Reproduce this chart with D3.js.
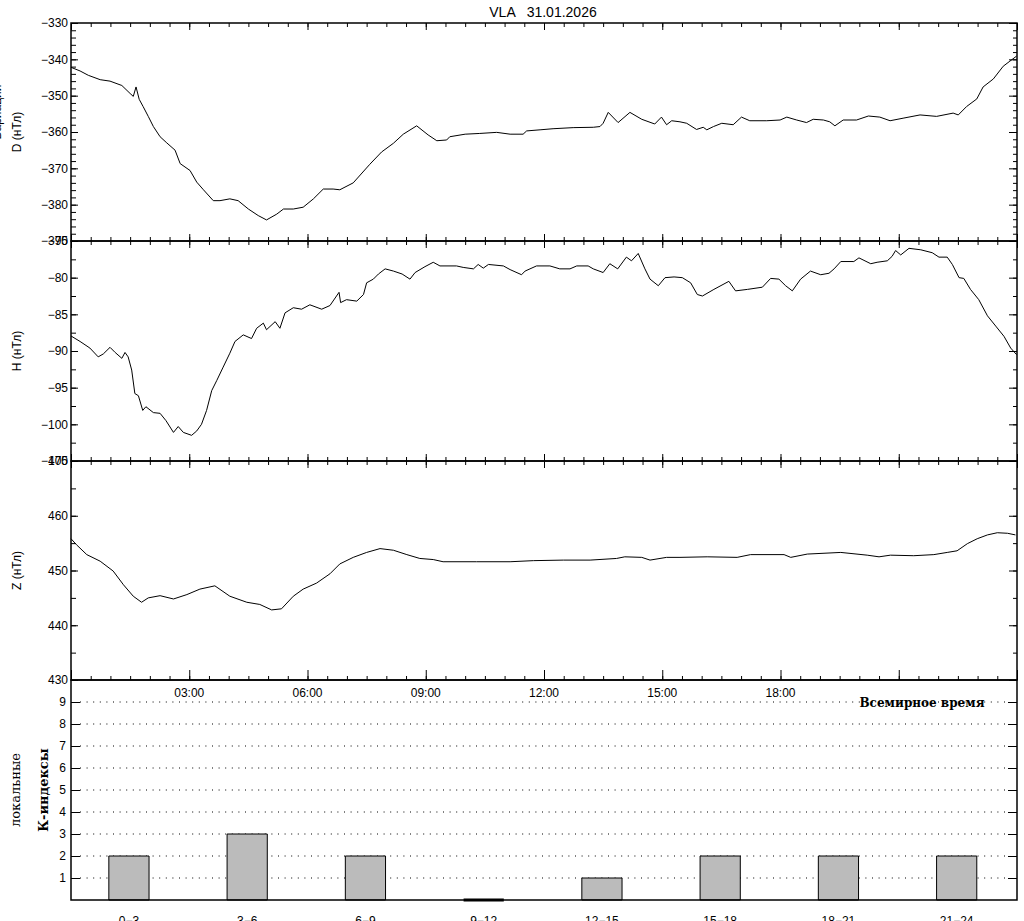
<!DOCTYPE html>
<html>
<head>
<meta charset="utf-8">
<script src="https://cdn.jsdelivr.net/npm/d3@7"></script>
<style>
  body { margin: 0; background: #fff; }
  svg { display: block; font-family: "Liberation Sans", "DejaVu Sans", sans-serif; }
  .tick text { font-size: 12px; fill: #000; }
  .tick line { stroke: #000; }
</style>
</head>
<body>
<script>
// values: [hour UT, nT]
let dSeries = [[0,-342.2],[0.23,-343.2],[0.44,-344.4],[0.74,-345.6],[0.99,-346],[1.29,-347.2],[1.5,-349.4],[1.58,-350.2],[1.65,-347.6],[1.73,-351],[1.83,-353],[1.96,-355.7],[2.09,-358.5],[2.26,-361.3],[2.43,-363],[2.64,-365],[2.77,-368.7],[3.02,-370.6],[3.19,-373.8],[3.36,-375.9],[3.61,-378.9],[3.78,-378.9],[4.03,-378.4],[4.24,-378.9],[4.5,-381.2],[4.75,-383],[4.96,-384.2],[5.22,-382.6],[5.39,-381.2],[5.64,-381.2],[5.89,-380.7],[6.15,-378.4],[6.4,-375.7],[6.65,-375.7],[6.82,-375.9],[7.16,-374],[7.58,-368.9],[7.88,-365.5],[8.18,-363.1],[8.43,-360.6],[8.77,-358.3],[9.06,-360.8],[9.28,-362.4],[9.53,-362.2],[9.61,-361.3],[10,-360.6],[10.37,-360.4],[10.8,-360.1],[11.14,-360.6],[11.47,-360.6],[11.56,-359.7],[11.9,-359.4],[12.23,-359.1],[12.74,-358.8],[13.25,-358.7],[13.42,-358.5],[13.5,-357.6],[13.63,-354.6],[13.88,-357.4],[14.18,-354.6],[14.48,-356.5],[14.81,-357.8],[14.98,-355.9],[15.11,-358],[15.24,-356.9],[15.45,-357.2],[15.62,-357.6],[15.87,-359.3],[16.04,-358.7],[16.13,-359.4],[16.3,-358.5],[16.51,-357.6],[16.8,-358],[17.01,-355.9],[17.22,-356.9],[17.65,-356.9],[17.99,-356.7],[18.16,-355.9],[18.41,-356.7],[18.66,-357.4],[18.83,-356.5],[19.09,-356.7],[19.25,-357.2],[19.38,-358.3],[19.59,-356.7],[19.93,-356.7],[20.23,-355.6],[20.52,-355.9],[20.78,-356.9],[21.11,-356.2],[21.54,-355.3],[21.96,-355.7],[22.38,-354.8],[22.51,-355.3],[22.72,-353],[22.98,-350.9],[23.14,-347.6],[23.4,-345.4],[23.65,-341.9],[23.82,-340.5],[23.99,-339.1]];

let hSeries = [[0,-87.95],[0.23,-88.7],[0.48,-89.6],[0.69,-90.8],[0.82,-90.4],[0.99,-89.5],[1.12,-90.2],[1.29,-91],[1.37,-90.2],[1.45,-90.8],[1.54,-92.6],[1.62,-95.8],[1.71,-96.1],[1.82,-98.1],[1.9,-97.6],[2.09,-98.4],[2.26,-98.5],[2.41,-99.5],[2.6,-101.1],[2.72,-100.3],[2.85,-101.1],[3.06,-101.5],[3.19,-100.9],[3.31,-100],[3.44,-98.1],[3.57,-95.4],[3.7,-94],[3.86,-92.2],[4.03,-90.3],[4.16,-88.7],[4.37,-87.8],[4.58,-88.3],[4.71,-86.9],[4.88,-86.2],[4.96,-87.1],[5.18,-86],[5.3,-86.9],[5.43,-84.8],[5.64,-84.1],[5.85,-84.3],[6.06,-83.7],[6.36,-84.3],[6.57,-83.8],[6.8,-82],[6.84,-83.4],[6.99,-83],[7.25,-83.2],[7.42,-82.3],[7.5,-80.7],[7.67,-80.2],[7.8,-79.5],[7.97,-78.8],[8.18,-79.1],[8.4,-79.5],[8.6,-80.2],[8.73,-79.3],[8.98,-78.5],[9.19,-77.9],[9.36,-78.4],[9.78,-78.4],[9.95,-78.6],[10.21,-78.8],[10.33,-78.2],[10.46,-78.7],[10.59,-78.2],[10.97,-78.4],[11.14,-78.9],[11.43,-79.6],[11.52,-79.1],[11.81,-78.4],[12.15,-78.4],[12.4,-78.8],[12.66,-78.8],[12.83,-78.4],[13.12,-78.4],[13.25,-78.8],[13.5,-79.3],[13.67,-78.1],[13.87,-78.8],[14.09,-77.2],[14.22,-77.7],[14.39,-76.7],[14.56,-78.8],[14.69,-80.2],[14.9,-81.1],[15.07,-80],[15.3,-79.9],[15.51,-80],[15.72,-80.7],[15.89,-82.3],[16.02,-82.5],[16.31,-81.6],[16.69,-80.5],[16.86,-81.8],[17.16,-81.6],[17.54,-81.3],[17.75,-80.1],[17.96,-80.2],[18.13,-81.1],[18.3,-81.8],[18.51,-80.2],[18.76,-79.1],[19.02,-79.6],[19.23,-79.4],[19.36,-78.8],[19.53,-77.8],[19.86,-77.8],[19.99,-77.3],[20.29,-78.1],[20.45,-77.9],[20.71,-77.7],[20.83,-77.1],[20.92,-76.3],[21.05,-76.9],[21.26,-76],[21.56,-76.2],[21.85,-76.6],[22.02,-77.2],[22.23,-77.2],[22.36,-78.2],[22.53,-80],[22.65,-80.1],[22.82,-81.6],[23.03,-83],[23.25,-85.2],[23.46,-86.6],[23.67,-88],[23.84,-89.6],[23.99,-90.5]];

let zSeries = [[0,455.8],[0.14,454.7],[0.4,452.9],[0.74,451.7],[1.07,449.9],[1.33,447.4],[1.58,445.3],[1.79,444.2],[1.96,445],[2.26,445.4],[2.6,444.8],[2.94,445.6],[3.27,446.6],[3.65,447.2],[4.03,445.3],[4.46,444.2],[4.79,443.8],[5.09,442.8],[5.34,443],[5.64,445.3],[5.89,446.6],[6.23,447.7],[6.57,449.4],[6.82,451.2],[7.16,452.4],[7.5,453.3],[7.84,454],[8.18,453.7],[8.52,452.9],[8.85,452.2],[9.19,452],[9.44,451.6],[10.29,451.6],[11.14,451.6],[11.73,451.8],[12.49,451.9],[13.17,451.9],[13.84,452.2],[14.05,452.5],[14.48,452.4],[14.69,451.9],[15.11,452.4],[15.45,452.4],[16.14,452.5],[16.9,452.4],[17.24,452.9],[18.09,452.9],[18.26,452.4],[18.68,453],[19.53,453.3],[20.2,452.8],[20.5,452.5],[20.79,452.8],[21.38,452.7],[21.89,452.9],[22.23,453.3],[22.48,453.6],[22.74,454.9],[22.99,455.8],[23.25,456.5],[23.5,456.9],[23.76,456.8],[23.96,456.5]];

let kLabels = ["0\u22123","3\u22126","6\u22129","9\u221212","12\u221215","15\u221218","18\u221221","21\u221224"];
let kValues = [2, 3, 2, 0, 1, 2, 2, 2];
let kTicks = [1, 2, 3, 4, 5, 6, 7, 8, 9];
let timeLabels = ["03:00", "06:00", "09:00", "12:00", "15:00", "18:00"];

let width = 1024, height = 921;
let left = 71, right = 1017;
let tops = [23, 241, 461, 680], bottoms = [241, 461, 680, 900];

let svg = d3.select("body").append("svg")
  .attr("width", width)
  .attr("height", height);

let x = d3.scaleLinear().domain([0, 24]).range([left, right]);

let majorX = d3.range(0, 25, 3), minorX = d3.range(0, 24.01, 0.5);

// three magnetometer panels
let panels = [
  {data: dSeries, dom: [-390, -330], step: 10, minor: 2, name: "D (нТл)"},
  {data: hSeries, dom: [-105, -75], step: 5, minor: 2.5, name: "H (нТл)"},
  {data: zSeries, dom: [430, 470], step: 10, minor: 5, name: "Z (нТл)"}
];

panels.forEach(function(p, i) {
  let y = d3.scaleLinear().domain(p.dom).range([bottoms[i], tops[i]]);
  let g = svg.append("g");
  let majors = d3.range(p.dom[0], p.dom[1] + 0.01, p.step);
  let minors = d3.range(p.dom[0], p.dom[1] + 0.01, p.minor);

  // top & bottom time ticks (inward)
  g.append("g").attr("transform", "translate(0," + tops[i] + ")")
    .call(d3.axisBottom(x).tickValues(minorX).tickSize(4).tickFormat(""));
  g.append("g").attr("transform", "translate(0," + tops[i] + ")")
    .call(d3.axisBottom(x).tickValues(majorX).tickSize(7).tickFormat(""));
  g.append("g").attr("transform", "translate(0," + bottoms[i] + ")")
    .call(d3.axisTop(x).tickValues(minorX).tickSize(4).tickFormat(""));
  g.append("g").attr("transform", "translate(0," + bottoms[i] + ")")
    .call(d3.axisTop(x).tickValues(majorX).tickSize(i == 2 ? 10 : 7).tickFormat(""));

  // left ticks with labels, right ticks
  g.append("g").attr("transform", "translate(" + left + ",0)")
    .call(d3.axisLeft(y).tickValues(minors).tickSizeInner(-5).tickSizeOuter(0).tickFormat(""));
  g.append("g").attr("transform", "translate(" + left + ",0)")
    .call(d3.axisLeft(y).tickValues(majors).tickSizeInner(-7).tickSizeOuter(0).tickPadding(3).tickFormat(d3.format("d")));
  g.append("g").attr("transform", "translate(" + right + ",0)")
    .call(d3.axisLeft(y).tickValues(minors).tickSizeInner(4).tickSizeOuter(0).tickFormat(""));
  g.append("g").attr("transform", "translate(" + right + ",0)")
    .call(d3.axisLeft(y).tickValues(majors).tickSizeInner(8).tickSizeOuter(0).tickFormat(""));
  g.selectAll(".domain").remove();

  g.append("path")
    .datum(p.data)
    .attr("fill", "none")
    .attr("stroke", "#000")
    .attr("stroke-width", 1)
    .attr("d", d3.line().x(d => x(d[0])).y(d => y(d[1])));

  g.append("text")
    .attr("transform", "translate(17," + (tops[i] + bottoms[i]) / 2 + ") rotate(-90)")
    .attr("text-anchor", "middle")
    .attr("dominant-baseline", "central")
    .style("font-size", "12px")
    .text(p.name);
});

// side caption, mostly outside the page edge as in the original
svg.append("text")
  .attr("transform", "translate(1,112) rotate(-90)")
  .attr("text-anchor", "middle")
  .style("font-size", "12px")
  .text("Вариации");

// K-index panel
let yk = d3.scaleLinear().domain([0, 10]).range([bottoms[3], tops[3]]);
let gk = svg.append("g");

gk.selectAll(".grid")
  .data(kTicks)
  .enter().append("line")
  .attr("x1", left + 9).attr("x2", right - 9)
  .attr("y1", d => yk(d)).attr("y2", d => yk(d))
  .attr("stroke", "#000")
  .attr("stroke-dasharray", "1,5.6");

gk.append("g").attr("transform", "translate(" + left + ",0)")
  .call(d3.axisLeft(yk).tickValues(kTicks).tickSizeInner(-9).tickSizeOuter(0).tickPadding(5));
gk.append("g").attr("transform", "translate(" + right + ",0)")
  .call(d3.axisLeft(yk).tickValues(kTicks).tickSizeInner(9).tickSizeOuter(0).tickFormat(""));
gk.selectAll(".domain").remove();

gk.selectAll(".bar")
  .data(kValues)
  .enter().append("path")
  .attr("fill", "#bbbbbb")
  .attr("stroke", "#000")
  .attr("d", function(d, i) {
    let x0 = x(3 * i + 0.96), x1 = x(3 * i + 1.98);
    return "M" + x0 + "," + yk(0) + "V" + yk(d) + "H" + x1 + "V" + yk(0) + (d == 0 ? "" : "Z");
  })
  .attr("stroke-width", d => d == 0 ? 3 : 1);

gk.selectAll(".klab")
  .data(kLabels)
  .enter().append("text")
  .attr("x", (d, i) => x(3 * i + 1.47))
  .attr("y", 925)
  .attr("text-anchor", "middle")
  .style("font-size", "12px")
  .text(d => d);

// time labels under the Z panel
svg.selectAll(".tlab")
  .data(timeLabels)
  .enter().append("text")
  .attr("x", (d, i) => x(3 * (i + 1)))
  .attr("y", 697)
  .attr("text-anchor", "middle")
  .style("font-size", "12px")
  .text(d => d);

svg.append("text")
  .attr("x", 922).attr("y", 707)
  .attr("text-anchor", "middle")
  .style("font-family", "'DejaVu Serif', 'Liberation Serif', serif")
  .style("font-weight", "bold")
  .style("font-size", "12px")
  .text("Всемирное время");

svg.append("text")
  .attr("transform", "translate(15,790) rotate(-90)")
  .attr("text-anchor", "middle")
  .attr("dominant-baseline", "central")
  .style("font-family", "'DejaVu Serif', 'Liberation Serif', serif")
  .style("font-size", "13px")
  .text("локальные");

svg.append("text")
  .attr("transform", "translate(43,790) rotate(-90)")
  .attr("text-anchor", "middle")
  .attr("dominant-baseline", "central")
  .style("font-family", "'DejaVu Serif', 'Liberation Serif', serif")
  .style("font-weight", "bold")
  .style("font-size", "13px")
  .text("К-индексы");

// panel frames
tops.forEach(function(t, i) {
  svg.append("rect")
    .attr("x", left).attr("y", t)
    .attr("width", right - left).attr("height", bottoms[i] - t)
    .attr("fill", "none")
    .attr("stroke", "#000")
    .attr("stroke-width", 1.5);
});

svg.append("text")
  .attr("x", 543).attr("y", 17)
  .attr("text-anchor", "middle")
  .style("font-size", "14px")
  .style("white-space", "pre")
  .text("VLA   31.01.2026");
</script>
</body>
</html>
